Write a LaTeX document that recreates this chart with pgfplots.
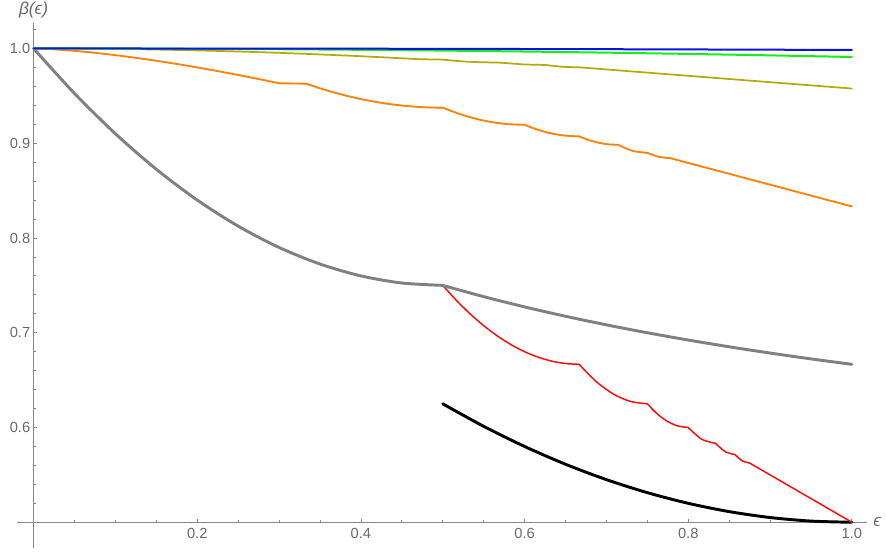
\documentclass[border=0pt]{standalone}
\usepackage{pgfplots}
\pgfplotsset{compat=1.18}
\usepackage{fontspec}
\setmainfont{Liberation Sans}

\definecolor{axgray}{RGB}{135,135,135}
\definecolor{lblgray}{RGB}{105,105,105}
\definecolor{cblue}{RGB}{10,20,225}
\definecolor{cgreen}{RGB}{20,240,20}
\definecolor{colive}{RGB}{178,170,10}
\definecolor{corange}{RGB}{255,130,10}
\definecolor{cred}{RGB}{255,10,10}
\definecolor{cgray}{RGB}{128,128,128}

\tikzset{
  blk/.style={black, line width=2.2pt, line cap=round, line join=round},
  rd/.style={cred, line width=1.1pt, line cap=round, line join=round},
  gr/.style={cgray, line width=2.2pt, line cap=round, line join=round},
  org/.style={corange, line width=1.4pt, line cap=round, line join=round},
  olv/.style={colive, line width=1.3pt, line cap=round, line join=round},
  grn/.style={cgreen, line width=1.5pt, line cap=round, line join=round},
  blu/.style={cblue, line width=1.5pt, line cap=round, line join=round},
}

\begin{document}
\begin{tikzpicture}
\begin{axis}[
  scale only axis, width=613.7pt, height=355.35pt,
  xmin=0, xmax=1, ymin=0.5, ymax=1,
  axis x line*=bottom, axis y line*=left,
  clip=false, no marks,
  axis line style={draw=none},
  tick align=inside,
  major tick length=2.6pt, minor tick length=1.7pt,
  every tick/.style={draw=axgray, line width=0.6pt},
  xtick={0,0.2,0.4,0.6,0.8,1.0},
  xticklabels={,0.2,0.4,0.6,0.8,1.0},
  ytick={0.5,0.6,0.7,0.8,0.9,1.0},
  yticklabels={,0.6,0.7,0.8,0.9,1.0},
  minor x tick num=3, minor y tick num=4,
  ticklabel style={font=\fontsize{11}{13}\selectfont, text=lblgray},
  xticklabel style={yshift=-1pt},
  yticklabel style={xshift=1pt},
  /pgf/number format/assume math mode=true,
]
% axis lines, Mathematica style (they run past the plot range)
\draw[axgray, line width=0.9pt] ([xshift=-12.5pt]axis cs:0,0.5) -- ([xshift=11pt]axis cs:1,0.5);
\draw[axgray, line width=0.9pt] ([yshift=-19.5pt]axis cs:0,0.5) -- ([yshift=19pt]axis cs:0,1);
\draw[axgray, line width=0.6pt] (axis cs:0,1.02) -- ([xshift=1.7pt]axis cs:0,1.02);

% black
\addplot[blk, smooth] coordinates {
(0.5,0.625) (0.55,0.60125) (0.6,0.58) (0.65,0.56125) (0.7,0.545)
(0.75,0.53125) (0.8,0.52) (0.85,0.51125) (0.9,0.505) (0.95,0.50125) (1.0,0.5)
};
% red
\addplot[rd, smooth] coordinates {
(0.5,0.75) (0.516667,0.734167) (0.533333,0.72) (0.55,0.7075) (0.566667,0.696667)
(0.583333,0.6875) (0.6,0.68) (0.616667,0.674167) (0.633333,0.67) (0.65,0.6675)
(0.666667,0.666667)
};
\addplot[rd, smooth] coordinates {
(0.666667,0.666667) (0.6875,0.648438) (0.708333,0.635417) (0.729167,0.627604) (0.75,0.625)
};
\addplot[rd, smooth] coordinates {
(0.75,0.625) (0.7625,0.614063) (0.775,0.60625) (0.7875,0.601563) (0.8,0.6)
};
\addplot[rd, smooth] coordinates {(0.8,0.6) (0.816667,0.5875) (0.833333,0.583333)};
\addplot[rd, smooth] coordinates {(0.833333,0.583333) (0.845238,0.574405) (0.857143,0.571429)};
\addplot[rd, smooth] coordinates {(0.857143,0.571429) (0.866071,0.564732) (0.875,0.5625)};
\addplot[rd] coordinates {(0.875,0.5625) (1.0,0.5)};
% gray
\addplot[gr, smooth] coordinates {
(0,1) (0.05,0.9525) (0.1,0.91) (0.15,0.8725) (0.2,0.84) (0.25,0.8125)
(0.3,0.79) (0.35,0.7725) (0.4,0.76) (0.45,0.7525) (0.5,0.75)
};
\addplot[gr, smooth] coordinates {
(0.5,0.75) (0.55,0.738095) (0.6,0.727273) (0.65,0.717391) (0.7,0.708333) (0.75,0.7)
(0.8,0.692308) (0.85,0.685185) (0.9,0.678571) (0.95,0.672414) (1.0,0.666667)
};
% orange
\addplot[org, smooth] coordinates {
(0,1) (0.025,0.99912) (0.05,0.9975) (0.075,0.99541) (0.1,0.99293) (0.125,0.99011)
(0.15,0.987) (0.175,0.98362) (0.2,0.97999) (0.225,0.97612) (0.25,0.97204)
(0.275,0.96774) (0.3,0.9633)
};
\addplot[org] coordinates {(0.3,0.9633) (0.333333,0.9628)};
\addplot[org, smooth] coordinates {
(0.333333,0.9628) (0.35,0.95799) (0.366667,0.95369) (0.383333,0.9499) (0.4,0.94661) (0.416667,0.943825)
(0.433333,0.941548) (0.45,0.939777) (0.466667,0.938512) (0.483333,0.937753) (0.5,0.9375)
};
\addplot[org, smooth] coordinates {
(0.5,0.9375) (0.52,0.930984) (0.54,0.925916) (0.56,0.922296) (0.58,0.920124) (0.6,0.9194)
};
\addplot[org, smooth] coordinates {
(0.6,0.9194) (0.616667,0.914063) (0.633333,0.91025) (0.65,0.907963) (0.666667,0.9072)
};
\addplot[org, smooth] coordinates {
(0.666667,0.9072) (0.678571,0.903306) (0.690476,0.900525) (0.702381,0.898856) (0.714286,0.8983)
};
\addplot[org, smooth] coordinates {(0.714286,0.8983) (0.732143,0.891925) (0.75,0.8898)};
\addplot[org, smooth] coordinates {(0.75,0.8898) (0.763889,0.885675) (0.777778,0.8843)};
\addplot[org] coordinates {(0.777778,0.8843) (1.0,0.8333)};
% olive
\addplot[olv, smooth] coordinates {
(0,1) (0.1,0.99949) (0.2,0.99795) (0.3,0.99539) (0.4,0.99181) (0.47,0.98869)
};
\addplot[olv] coordinates {(0.47,0.98869) (0.5,0.9882)};
\addplot[olv, smooth] coordinates {(0.5,0.9882) (0.517857,0.9868) (0.535714,0.9858) (0.571429,0.985)};
\addplot[olv, smooth] coordinates {(0.571429,0.985) (0.598214,0.9832) (0.625,0.9826)};
\addplot[olv, smooth] coordinates {(0.625,0.9826) (0.645833,0.980725) (0.666667,0.9801)};
\addplot[olv] coordinates {(0.666667,0.9801) (1.0,0.9577)};
% green
\addplot[grn, smooth] coordinates {
(0,1) (0.1,0.99991) (0.2,0.99964) (0.3,0.99919) (0.4,0.99856) (0.5,0.99775)
(0.6,0.99676) (0.7,0.99559) (0.8,0.99424) (0.9,0.99271) (1.0,0.991)
};
% blue
\addplot[blu, smooth] coordinates {
(0,1) (0.25,0.9999) (0.5,0.9996) (0.75,0.9991) (1.0,0.9984)
};
\node[text=lblgray, font=\fontsize{13}{15}\selectfont\itshape] at (rel axis cs:0,1) [yshift=29pt] {β(ϵ)};
\node[text=lblgray, font=\fontsize{13}{15}\selectfont\itshape] at (rel axis cs:1,0) [xshift=19pt] {ϵ};
\end{axis}
\pgfresetboundingbox
\path (-25.2pt,-22.3pt) rectangle (639.3pt,391.7pt);
\end{tikzpicture}
\end{document}
